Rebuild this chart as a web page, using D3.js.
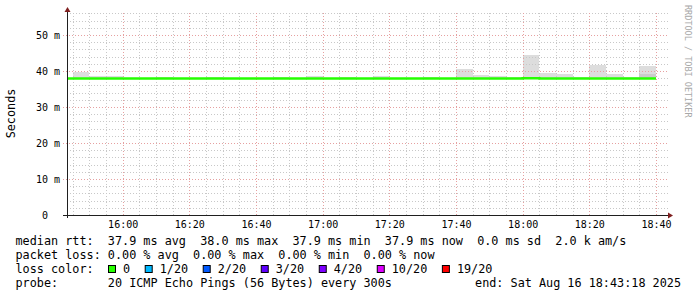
<!DOCTYPE html>
<html>
<head>
<meta charset="utf-8">
<script src="https://cdn.jsdelivr.net/npm/d3@7"></script>
<style>
  body { margin: 0; background: #ffffff; }
  svg { display: block; font-family: 'DejaVu Sans Mono', monospace; }
  text { white-space: pre; }
</style>
</head>
<body>
<script>
// 5 minute steps, each value belongs to the step ending at that time
const stepEnds = [
  '15:45', '15:50', '15:55', '16:00', '16:05', '16:10', '16:15', '16:20', '16:25',
  '16:30', '16:35', '16:40', '16:45', '16:50', '16:55', '17:00', '17:05', '17:10',
  '17:15', '17:20', '17:25', '17:30', '17:35', '17:40', '17:45', '17:50', '17:55',
  '18:00', '18:05', '18:10', '18:15', '18:20', '18:25', '18:30', '18:35', '18:40',
];

const medianRtt = [
  37.9, 37.9, 37.9, 37.9, 37.9, 37.9, 37.9, 37.9, 37.9,
  37.9, 37.9, 37.9, 37.9, 37.9, 37.9, 37.9, 37.9, 37.9,
  37.9, 37.9, 37.9, 37.9, 37.9, 37.9, 37.9, 37.9, 37.9,
  37.9, 38.0, 37.9, 37.9, 37.9, 37.9, 37.9, 37.9, 37.9,
];

const smokeLow = [
  37.7, 37.7, 37.7, 37.7, 37.7, 37.7, 37.7, 37.7, 37.7,
  37.7, 37.7, 37.7, 37.7, 37.7, 37.7, 37.7, 37.7, 37.7,
  37.7, 37.7, 37.7, 37.7, 37.7, 37.7, 37.7, 37.7, 37.7,
  37.7, 37.7, 37.7, 37.7, 37.7, 37.7, 37.7, 37.7, 37.7,
];

const smokeInner = [
  38.0, 38.0, 38.0, 38.0, 38.0, 38.0, 38.0, 38.0, 38.0,
  38.0, 38.0, 38.0, 38.0, 38.0, 38.0, 38.0, 38.0, 38.0,
  38.0, 38.0, 38.0, 38.0, 38.0, 38.0, 38.0, 38.0, 38.0,
  38.0, 38.0, 38.0, 38.0, 38.0, 38.0, 38.0, 38.0, 39.2,
];

const smokeHigh = [
  38.1, 39.8, 38.7, 38.7, 38.1, 38.1, 38.2, 38.1, 38.1,
  38.2, 38.1, 38.1, 38.1, 38.2, 38.1, 38.6, 38.1, 38.2,
  38.1, 38.6, 38.1, 38.1, 38.2, 38.1, 40.6, 38.9, 38.7,
  38.2, 44.4, 39.5, 39.2, 38.2, 41.7, 39.2, 38.2, 41.4,
];

const xTickLabels = ['16:00', '16:20', '16:40', '17:00', '17:20', '17:40', '18:00', '18:20', '18:40'];
const yTickValues = [0, 10, 20, 30, 40, 50];
const yTickLabels = ['0', '10 m', '20 m', '30 m', '40 m', '50 m'];

const medianStats = ['37.9 ms avg', '38.0 ms max', '37.9 ms min', '37.9 ms now', '0.0 ms sd', '2.0 k am/s'];
const lossStats = ['0.00 % avg', '0.00 % max', '0.00 % min', '0.00 % now'];
const lossLabels = ['0', '1/20', '2/20', '3/20', '4/20', '10/20', '19/20'];
const lossColors = ['#26ff00', '#00b8ff', '#0059ff', '#5e00ff', '#7e00ff', '#dd00ff', '#ff0000'];
const probeText = '20 ICMP Echo Pings (56 Bytes) every 300s';
const endText = 'end: Sat Aug 16 18:43:18 2025';

const w = 697;
const h = 297;
const plotLeft = 67;
const plotRight = 667;
const plotTop = 13;
const plotBottom = 215;

const toDate = (s) => {
  const [hh, mm] = s.split(':').map(Number);
  return new Date(2025, 7, 16, hh, mm, 0);
};
const stepMs = 5 * 60 * 1000;

const steps = stepEnds.map((s, i) => ({
  end: toDate(s),
  median: medianRtt[i],
  low: smokeLow[i],
  inner: smokeInner[i],
  high: smokeHigh[i],
}));

const svg = d3.select('body').append('svg').attr('width', w).attr('height', h);

// scales
const xScale = d3
  .scaleTime()
  .domain([new Date(2025, 7, 16, 15, 43, 18), new Date(2025, 7, 16, 18, 43, 18)])
  .range([plotLeft, plotRight]);

const yScale = d3.scaleLinear().domain([0, 56.1]).range([plotBottom, plotTop]);

const crisp = (v) => Math.round(v) + 0.5;

svg
  .append('clipPath')
  .attr('id', 'plot-clip')
  .append('rect')
  .attr('x', plotLeft)
  .attr('y', plotTop)
  .attr('width', plotRight - plotLeft)
  .attr('height', plotBottom - plotTop);

const plot = svg.append('g').attr('clip-path', 'url(#plot-clip)');

// smoke (outer band, then the darker inner band)
plot
  .selectAll('.smoke')
  .data(steps)
  .enter()
  .append('rect')
  .attr('class', 'smoke')
  .attr('shape-rendering', 'crispEdges')
  .attr('x', (d) => xScale(new Date(+d.end - stepMs)))
  .attr('width', (d) => xScale(d.end) - xScale(new Date(+d.end - stepMs)))
  .attr('y', (d) => yScale(d.high))
  .attr('height', (d) => yScale(d.low) - yScale(d.high))
  .attr('fill', '#dddddd');

plot
  .selectAll('.smoke-inner')
  .data(steps)
  .enter()
  .append('rect')
  .attr('class', 'smoke-inner')
  .attr('shape-rendering', 'crispEdges')
  .attr('x', (d) => xScale(new Date(+d.end - stepMs)))
  .attr('width', (d) => xScale(d.end) - xScale(new Date(+d.end - stepMs)))
  .attr('y', (d) => yScale(d.inner))
  .attr('height', (d) => yScale(d.low) - yScale(d.inner))
  .attr('fill', '#cbcbcb');

// grid lines
const minorTimes = d3.timeMinute.every(5).range(xScale.domain()[0], xScale.domain()[1]);
const majorTimes = xTickLabels.map(toDate);
const minorValues = d3.range(2, 57, 2).filter((v) => v % 10 !== 0);

const grid = svg.append('g').attr('fill', 'none');

grid
  .selectAll('.vminor')
  .data(minorTimes.filter((t) => t.getMinutes() % 20 !== 0))
  .enter()
  .append('line')
  .attr('x1', (d) => crisp(xScale(d)))
  .attr('x2', (d) => crisp(xScale(d)))
  .attr('y1', plotTop)
  .attr('y2', plotBottom)
  .attr('stroke', '#c8c8c8')
  .attr('stroke-dasharray', '1,2');

grid
  .selectAll('.hminor')
  .data(minorValues)
  .enter()
  .append('line')
  .attr('x1', plotLeft)
  .attr('x2', plotRight + 2)
  .attr('y1', (d) => crisp(yScale(d)))
  .attr('y2', (d) => crisp(yScale(d)))
  .attr('stroke', '#c8c8c8')
  .attr('stroke-dasharray', '1,2');

grid
  .selectAll('.vmajor')
  .data(majorTimes)
  .enter()
  .append('line')
  .attr('x1', (d) => crisp(xScale(d)))
  .attr('x2', (d) => crisp(xScale(d)))
  .attr('y1', plotTop)
  .attr('y2', plotBottom)
  .attr('stroke', '#e6a0a0')
  .attr('stroke-dasharray', '1,2');

grid
  .selectAll('.hmajor')
  .data(yTickValues.slice(1))
  .enter()
  .append('line')
  .attr('x1', plotLeft - 4)
  .attr('x2', plotRight + 2)
  .attr('y1', (d) => crisp(yScale(d)))
  .attr('y2', (d) => crisp(yScale(d)))
  .attr('stroke', '#e6a0a0')
  .attr('stroke-dasharray', '1,2');

// median line, drawn above the grid
const medianLine = d3
  .line()
  .curve(d3.curveStepBefore)
  .x((d) => xScale(d.t))
  .y((d) => yScale(d.v));

const medianPoints = [{ t: new Date(+steps[0].end - stepMs), v: steps[0].median }].concat(
  steps.map((d) => ({ t: d.end, v: d.median }))
);

svg
  .append('g')
  .attr('clip-path', 'url(#plot-clip)')
  .append('path')
  .datum(medianPoints)
  .attr('d', medianLine)
  .attr('fill', 'none')
  .attr('stroke', lossColors[0])
  .attr('stroke-width', 2.5);

// axes
svg
  .append('line')
  .attr('x1', plotLeft - 4)
  .attr('x2', plotRight + 2)
  .attr('y1', plotBottom + 0.5)
  .attr('y2', plotBottom + 0.5)
  .attr('stroke', '#1f1f1f');

svg
  .append('line')
  .attr('x1', plotLeft + 0.5)
  .attr('x2', plotLeft + 0.5)
  .attr('y1', plotBottom + 3)
  .attr('y2', plotTop - 2)
  .attr('stroke', '#1f1f1f');

svg
  .append('path')
  .attr('d', `M${plotRight + 1},${plotBottom - 2.5}L${plotRight + 6},${plotBottom + 0.5}L${plotRight + 1},${plotBottom + 3.5}Z`)
  .attr('fill', '#7f1f1f');

svg
  .append('path')
  .attr('d', `M${plotLeft - 2.5},${plotTop - 1}L${plotLeft + 0.5},${plotTop - 6}L${plotLeft + 3.5},${plotTop - 1}Z`)
  .attr('fill', '#7f1f1f');

const xAxis = d3
  .axisBottom(xScale)
  .tickValues(majorTimes)
  .tickFormat((d, i) => xTickLabels[i])
  .tickSize(0)
  .tickPadding(5.4);

const gx = svg.append('g').attr('transform', `translate(0, ${plotBottom})`).call(xAxis);
gx.select('.domain').remove();
gx.attr('font-family', "'DejaVu Sans Mono', monospace").attr('font-size', 10);
gx.selectAll('text').attr('fill', '#000');

const yAxis = d3
  .axisLeft(yScale)
  .tickValues(yTickValues)
  .tickFormat((d, i) => yTickLabels[i].padEnd(3, ' '))
  .tickSize(0)
  .tickPadding(7);

const gy = svg.append('g').attr('transform', `translate(${plotLeft}, 0)`).call(yAxis);
gy.select('.domain').remove();
gy.attr('font-family', "'DejaVu Sans Mono', monospace").attr('font-size', 10);
gy.selectAll('text').attr('fill', '#000');

svg
  .append('text')
  .attr('transform', 'translate(14.5, 113.5) rotate(-90)')
  .attr('text-anchor', 'middle')
  .attr('font-size', 11.8)
  .text('Seconds');

svg
  .append('text')
  .attr('transform', 'translate(685, 5) rotate(90)')
  .attr('font-size', 8.5)
  .attr('fill', '#a8a8a8')
  .text('RRDTOOL / TOBI OETIKER');

// legend rows
const legend = svg.append('g').attr('font-size', 11.8).attr('fill', '#000');
const rowY = [245, 259, 273, 286.5];

legend
  .append('text')
  .attr('x', 15.5)
  .attr('y', rowY[0])
  .text('median rtt:  ' + medianStats.join('  '));

legend
  .append('text')
  .attr('x', 15.5)
  .attr('y', rowY[1])
  .text('packet loss: ' + lossStats.join('  '));

legend.append('text').attr('x', 15.5).attr('y', rowY[2]).text('loss color:');

const charW = 11.8 * 0.602;
let cursor = 108;
lossLabels.forEach((label, i) => {
  legend
    .append('rect')
    .attr('x', cursor + 0.5)
    .attr('y', 265.5)
    .attr('width', 7)
    .attr('height', 7)
    .attr('fill', lossColors[i])
    .attr('stroke', '#000');
  legend
    .append('text')
    .attr('x', cursor + 15)
    .attr('y', rowY[2])
    .text(label);
  cursor += 29.6 + label.length * charW;
});

legend
  .append('text')
  .attr('x', 15.5)
  .attr('y', rowY[3])
  .text('probe:       ' + probeText);

legend
  .append('text')
  .attr('x', 681)
  .attr('y', rowY[3])
  .attr('text-anchor', 'end')
  .text(endText);
</script>
</body>
</html>
